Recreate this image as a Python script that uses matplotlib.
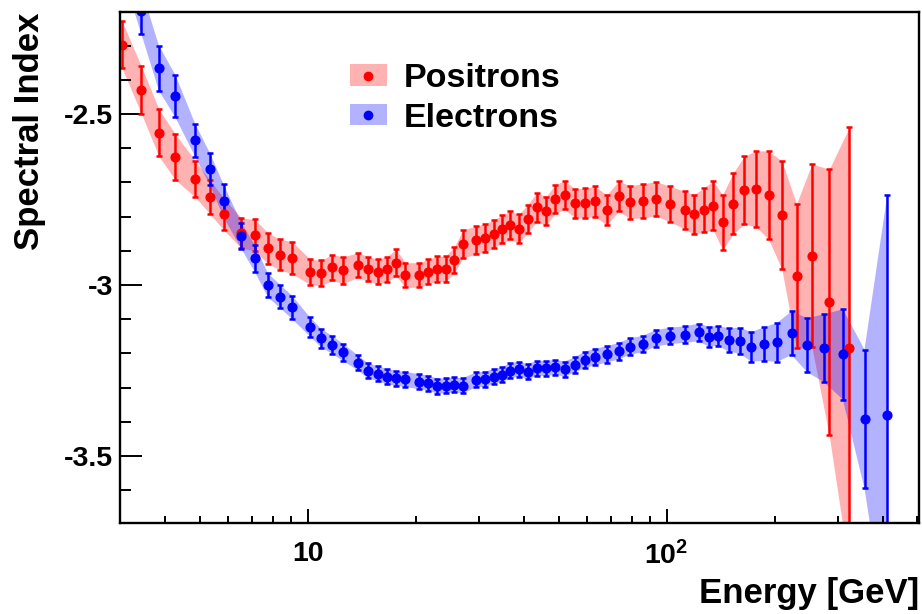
import numpy as np
import matplotlib
matplotlib.use('Agg')
import matplotlib.pyplot as plt
from matplotlib.ticker import FixedLocator, MultipleLocator, NullFormatter, FuncFormatter
from matplotlib.patches import Patch
from matplotlib.lines import Line2D

plt.rcParams['font.family'] = ['Liberation Sans', 'DejaVu Sans']
plt.rcParams['font.weight'] = 'bold'
plt.rcParams['mathtext.fontset'] = 'custom'
plt.rcParams['mathtext.rm'] = 'Liberation Sans:bold'
plt.rcParams['mathtext.bf'] = 'Liberation Sans:bold'

# Positron spectral index
pos_energy = [3.04, 3.44, 3.85, 4.28, 4.86, 5.34, 5.83, 6.54, 7.12, 7.75, 8.39, 9.04,
              10.16, 10.92, 11.70, 12.54, 13.81, 14.72, 15.67, 16.63, 17.64, 18.72,
              20.45, 21.67, 22.95, 24.23, 25.62, 27.06, 29.53, 31.22, 32.97, 34.82,
              36.70, 38.79, 41.01, 43.45, 46.12, 48.98, 51.99, 55.42, 59.10, 63.30,
              68.07, 73.50, 79.12, 85.75, 93.37, 102.4, 112.2, 119.1, 126.8, 134.9,
              143.2, 153.0, 164.6, 177.4, 192.3, 209.5, 230.2, 254.0, 283.9, 322.9]
pos_index = [-2.298, -2.430, -2.555, -2.626, -2.690, -2.743, -2.792, -2.849, -2.854, -2.893,
             -2.912, -2.920, -2.962, -2.965, -2.949, -2.957, -2.942, -2.953, -2.961, -2.954,
             -2.935, -2.971, -2.971, -2.961, -2.953, -2.953, -2.927, -2.880, -2.869, -2.862,
             -2.851, -2.837, -2.826, -2.835, -2.807, -2.773, -2.784, -2.749, -2.737, -2.761,
             -2.761, -2.756, -2.781, -2.741, -2.758, -2.754, -2.748, -2.764, -2.781, -2.794,
             -2.781, -2.768, -2.817, -2.763, -2.723, -2.719, -2.737, -2.796, -2.974, -2.914,
             -3.051, -3.185]
pos_err = [0.069, 0.069, 0.069, 0.067, 0.053, 0.049, 0.047, 0.044, 0.046, 0.045,
           0.045, 0.047, 0.037, 0.037, 0.038, 0.039, 0.036, 0.036, 0.036, 0.037,
           0.039, 0.036, 0.036, 0.036, 0.037, 0.037, 0.038, 0.041, 0.041, 0.041,
           0.041, 0.041, 0.041, 0.041, 0.041, 0.042, 0.042, 0.042, 0.042, 0.042,
           0.044, 0.044, 0.044, 0.044, 0.048, 0.050, 0.050, 0.052, 0.055, 0.058,
           0.064, 0.072, 0.080, 0.089, 0.099, 0.111, 0.129, 0.158, 0.211, 0.268,
           0.389, 0.646]

# Electron spectral index
ele_energy = [3.04, 3.44, 3.85, 4.28, 4.86, 5.34, 5.83, 6.54, 7.12, 7.75, 8.39, 9.04,
              10.16, 10.92, 11.70, 12.54, 13.81, 14.72, 15.67, 16.63, 17.64, 18.72,
              20.45, 21.67, 22.95, 24.23, 25.62, 27.06, 29.53, 31.22, 32.97, 34.82,
              36.70, 38.79, 41.01, 43.45, 46.12, 48.98, 51.99, 55.42, 59.10, 63.30,
              68.07, 73.50, 79.12, 85.75, 93.37, 102.4, 112.2, 123.0, 130.9, 139.0,
              149.1, 160.1, 172.2, 186.6, 203.4, 222.9, 246.6, 274.3, 309.8, 356.0, 411.9]
ele_index = [-2.02, -2.20, -2.366, -2.448, -2.577, -2.661, -2.754, -2.857, -2.922, -3.001,
             -3.034, -3.065, -3.123, -3.156, -3.175, -3.197, -3.228, -3.251, -3.259, -3.268,
             -3.273, -3.276, -3.283, -3.287, -3.296, -3.295, -3.292, -3.295, -3.277, -3.276,
             -3.268, -3.262, -3.251, -3.246, -3.254, -3.244, -3.244, -3.241, -3.246, -3.234,
             -3.219, -3.211, -3.203, -3.194, -3.180, -3.173, -3.156, -3.149, -3.145, -3.139,
             -3.151, -3.149, -3.161, -3.163, -3.181, -3.173, -3.168, -3.141, -3.176, -3.185,
             -3.203, -3.392, -3.381]
ele_err = [0.066, 0.066, 0.066, 0.062, 0.048, 0.047, 0.048, 0.038, 0.039, 0.035,
           0.034, 0.034, 0.028, 0.027, 0.026, 0.025, 0.022, 0.022, 0.022, 0.022,
           0.022, 0.022, 0.022, 0.022, 0.022, 0.022, 0.022, 0.022, 0.022, 0.022,
           0.022, 0.022, 0.022, 0.022, 0.022, 0.022, 0.022, 0.022, 0.022, 0.022,
           0.024, 0.024, 0.024, 0.024, 0.024, 0.024, 0.024, 0.024, 0.024, 0.026,
           0.029, 0.029, 0.034, 0.038, 0.043, 0.049, 0.057, 0.064, 0.079, 0.099,
           0.132, 0.203, 0.643]

pos_energy, pos_index, pos_err = map(np.array, (pos_energy, pos_index, pos_err))
ele_energy, ele_index, ele_err = map(np.array, (ele_energy, ele_index, ele_err))

fig = plt.figure(figsize=(9.22, 6.14), dpi=100)
ax = fig.add_axes([120 / 922, 1 - 523 / 614, 799 / 922, 511 / 614])

# positrons: band then points
ax.fill_between(pos_energy, pos_index - pos_err, pos_index + pos_err,
                color='red', alpha=0.3, lw=0)
ax.errorbar(pos_energy, pos_index, yerr=pos_err, fmt='o', color='red', ms=6.3,
            elinewidth=1.8, capsize=2.5, capthick=1.8)

# electrons drawn on top
ax.fill_between(ele_energy, ele_index - ele_err, ele_index + ele_err,
                color='blue', alpha=0.3, lw=0)
ax.errorbar(ele_energy, ele_index, yerr=ele_err, fmt='o', color='blue', ms=6.3,
            elinewidth=1.8, capsize=2.5, capthick=1.8)

ax.set_xscale('log')
ax.set_xlim(3, 505)
ax.set_ylim(-3.696, -2.202)

ax.xaxis.set_major_locator(FixedLocator([10, 100]))
ax.set_xticklabels(['10', r'$\mathbf{10^{2}}$'])
minors = [3, 4, 5, 6, 7, 8, 9, 20, 30, 40, 50, 60, 70, 80, 90, 200, 300, 400, 500]
ax.xaxis.set_minor_locator(FixedLocator(minors))
ax.xaxis.set_minor_formatter(NullFormatter())

ax.yaxis.set_major_locator(MultipleLocator(0.5))
ax.yaxis.set_minor_locator(MultipleLocator(0.1))
ax.yaxis.set_major_formatter(FuncFormatter(lambda v, p: '%g' % round(v, 2)))

ax.tick_params(axis='both', which='both', direction='in', top=False, right=False,
               width=1.4, labelsize=20.5)
ax.tick_params(axis='y', which='major', length=16, pad=5)
ax.tick_params(axis='y', which='minor', length=8)
ax.tick_params(axis='x', which='major', length=10, pad=13)
ax.tick_params(axis='x', which='minor', length=5)
for s in ax.spines.values():
    s.set_linewidth(1.7)

fig.text(30 / 922, 1 - 13 / 614, 'Spectral Index', rotation=90, ha='center', va='top',
         fontsize=25, fontweight='bold')
fig.text(919 / 922, 1 - 603 / 614, 'Energy [GeV]', ha='right', va='baseline',
         fontsize=25, fontweight='bold')

h_pos = (Patch(facecolor='red', alpha=0.3, lw=0),
         Line2D([], [], ls='none', marker='o', color='red', ms=6))
h_ele = (Patch(facecolor='blue', alpha=0.3, lw=0),
         Line2D([], [], ls='none', marker='o', color='blue', ms=6))
ax.legend([h_pos, h_ele], ['Positrons', 'Electrons'], loc='upper left',
          bbox_to_anchor=(0.288, 0.9), frameon=False, fontsize=24.5,
          borderpad=0, borderaxespad=0, handlelength=1.08, handleheight=0.6,
          handletextpad=0.5, labelspacing=0.25)

plt.savefig('out.png', dpi=100)
